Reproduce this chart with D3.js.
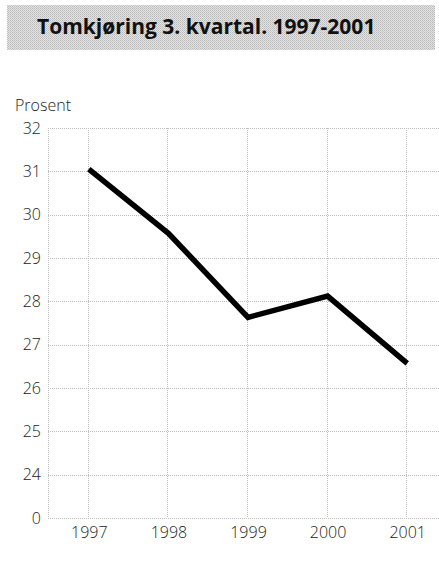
<!DOCTYPE html>
<html>
<head>
<meta charset="utf-8">
<script src="https://cdn.jsdelivr.net/npm/d3@7"></script>
<style>
    body { margin: 0; background: #fff; }
    svg { display: block; }
    text { font-family: "Open Sans", sans-serif; }
</style>
</head>
<body>
<svg id="chart" width="439" height="570"></svg>
<script>
// data
const title  = 'Tomkjøring 3. kvartal. 1997-2001';
const unit   = 'Prosent';
const years  = [1997, 1998, 1999, 2000, 2001];
const values = [31.05, 29.57, 27.63, 28.12, 26.57];
// broken axis: the bottom tick stands for 0
const yTicks      = [23, 24, 25, 26, 27, 28, 29, 30, 31, 32];
const yTickLabels = ['0', '24', '25', '26', '27', '28', '29', '30', '31', '32'];

const svg = d3.select('#chart');

// plot area
const l = 48;
const r = 447;
const t = 128;
const b = 518;

const xScale = d3.scaleLinear().domain([1996.5, 2001.5]).range([l + 1, r]);
const yScale = d3.scaleLinear().domain([23, 32]).range([b, t]);

// halftone look for the title bar
const pat = svg.append('defs').append('pattern')
    .attr('id', 'screen')
    .attr('width', 2).attr('height', 2)
    .attr('patternUnits', 'userSpaceOnUse');
pat.append('rect').attr('width', 2).attr('height', 2).attr('fill', '#e4e4e4');
pat.append('rect').attr('width', 1).attr('height', 1).attr('fill', '#b8b8b8');
pat.append('rect').attr('x', 1).attr('y', 1).attr('width', 1).attr('height', 1).attr('fill', '#c8c8c8');

svg.append('rect')
    .attr('x', 7).attr('y', 5)
    .attr('width', 428).attr('height', 45)
    .attr('fill', 'url(#screen)');

svg.append('text')
    .attr('x', 37).attr('y', 34)
    .attr('font-size', 21)
    .attr('font-weight', 700)
    .attr('fill', '#111')
    .text(title);

// grid
const grid = svg.append('g')
    .attr('stroke', '#bdbdbd')
    .attr('stroke-width', 1)
    .attr('stroke-dasharray', '1,1');

grid.selectAll('.h')
    .data(yTicks)
    .join('line')
    .attr('x1', l).attr('x2', 439)
    .attr('y1', d => Math.round(yScale(d)) + 0.5)
    .attr('y2', d => Math.round(yScale(d)) + 0.5);

grid.selectAll('.v')
    .data([1996.5].concat(years))
    .join('line')
    .attr('x1', d => Math.round(xScale(d)) - 0.5)
    .attr('x2', d => Math.round(xScale(d)) - 0.5)
    .attr('y1', t).attr('y2', b);

// y axis labels
const yAxis = d3.axisLeft(yScale)
    .tickValues(yTicks)
    .tickFormat((d, i) => yTickLabels[i])
    .tickSize(0)
    .tickPadding(7);

const gy = svg.append('g')
    .attr('transform', `translate(${l},0)`)
    .call(yAxis);
gy.select('.domain').remove();
gy.selectAll('text')
    .attr('font-family', '"Open Sans", sans-serif')
    .attr('font-size', 16)
    .attr('font-weight', 300)
    .attr('fill', '#222');

// x axis labels
const xAxis = d3.axisBottom(xScale)
    .tickValues(years)
    .tickFormat(d3.format('d'))
    .tickSize(0)
    .tickPadding(9);

const gx = svg.append('g')
    .attr('transform', `translate(0,${b})`)
    .call(xAxis);
gx.select('.domain').remove();
gx.selectAll('text')
    .attr('font-family', '"Open Sans", sans-serif')
    .attr('font-size', 16)
    .attr('font-weight', 300)
    .attr('fill', '#222');

// unit label
svg.append('text')
    .attr('x', 15).attr('y', 111)
    .attr('font-size', 16)
    .attr('font-weight', 300)
    .attr('fill', '#222')
    .text(unit);

// series
const line = d3.line()
    .x((d, i) => xScale(years[i]))
    .y(d => yScale(d));

svg.append('path')
    .datum(values)
    .attr('d', line)
    .attr('fill', 'none')
    .attr('stroke', '#000')
    .attr('stroke-width', 5.5);
</script>
</body>
</html>
